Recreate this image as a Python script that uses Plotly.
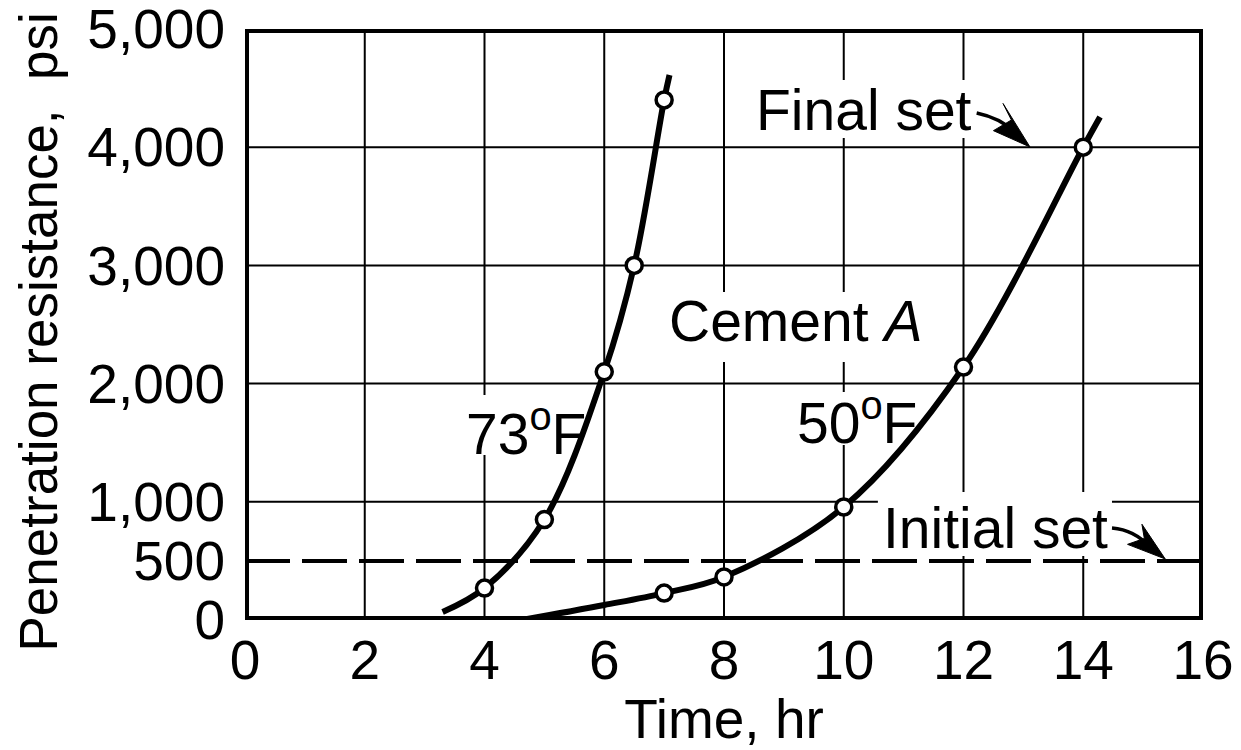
import plotly.graph_objects as go

# ---- data ----
# 73 F curve (smooth line through readings, incl. its drawn ends)
curve73_x = [3.3, 4.0, 5.0, 6.0, 6.5, 7.0, 7.09]
curve73_y = [68, 270, 850, 2100, 3000, 4400, 4611]
pts73_x = [4.0, 5.0, 6.0, 6.5, 7.0]
pts73_y = [270, 850, 2100, 3000, 4400]

# 50 F curve
curve50_x = [4.62, 6.0, 7.0, 8.0, 10.0, 12.0, 14.0, 14.28]
curve50_y = [0, 127, 228, 364, 956, 2140, 4000, 4255]
pts50_x = [7.0, 8.0, 10.0, 12.0, 14.0]
pts50_y = [228, 364, 956, 2140, 4000]

x_ticks = [0, 2, 4, 6, 8, 10, 12, 14, 16]
y_ticks = [0, 500, 1000, 2000, 3000, 4000, 5000]
y_ticktext = ["0", "500", "1,000", "2,000", "3,000", "4,000", "5,000"]
x_grid = [2, 4, 6, 8, 10, 12, 14]
y_grid = [1000, 2000, 3000, 4000]
initial_set = 500
x_range = [0, 16]
y_range = [0, 5000]

FONT = "Liberation Sans, Arial, Helvetica, sans-serif"

fig = go.Figure()

for cx, cy in [(curve73_x, curve73_y), (curve50_x, curve50_y)]:
    fig.add_trace(go.Scatter(x=cx, y=cy, mode="lines",
                             line=dict(color="black", width=6, shape="spline"),
                             hoverinfo="skip", showlegend=False))
for px_, py_ in [(pts73_x, pts73_y), (pts50_x, pts50_y)]:
    fig.add_trace(go.Scatter(x=px_, y=py_, mode="markers",
                             marker=dict(symbol="circle", size=16, color="white",
                                         line=dict(color="black", width=3.5)),
                             showlegend=False))

shapes = []
# grid lines
for gx in x_grid:
    shapes.append(dict(type="line", xref="x", yref="y", x0=gx, x1=gx,
                       y0=y_range[0], y1=y_range[1], layer="below",
                       line=dict(color="black", width=2)))
for gy in y_grid:
    shapes.append(dict(type="line", xref="x", yref="y", x0=x_range[0], x1=x_range[1],
                       y0=gy, y1=gy, layer="below",
                       line=dict(color="black", width=2)))
# white patches behind labels (grid is broken around text)
for (x0, x1, y0, y1) in [(8.43, 12.19, 4078, 4568),   # Final set
                         (7.01, 11.44, 2183, 2775),   # Cement A
                         (3.59, 5.76, 1396, 1904),    # 73F
                         (9.19, 11.27, 1480, 1929),   # 50F
                         (10.57, 14.48, 541, 1083)]:  # Initial set
    shapes.append(dict(type="rect", xref="x", yref="y", x0=x0, x1=x1, y0=y0, y1=y1,
                       layer="below", fillcolor="white", line=dict(width=0)))
# initial set dashed line
shapes.append(dict(type="line", xref="x", yref="y", x0=x_range[0], x1=x_range[1],
                   y0=initial_set, y1=initial_set, layer="below",
                   line=dict(color="black", width=4, dash="45px,12px")))
# curved pointer arrows (shaft + head)
shapes.append(dict(type="path", xref="x", yref="y",
                   path="M 12.22,4289 Q 12.61,4247 12.85,4130",
                   line=dict(color="black", width=3.5)))
shapes.append(dict(type="path", xref="x", yref="y",
                   path="M 13.11,4002 L 12.66,4370 L 12.80,4230 L 12.50,4140 Z",
                   fillcolor="black", line=dict(color="black", width=1)))
shapes.append(dict(type="path", xref="x", yref="y",
                   path="M 14.48,778 Q 14.86,761 15.10,620",
                   line=dict(color="black", width=3.5)))
shapes.append(dict(type="path", xref="x", yref="y",
                   path="M 15.37,516 L 14.98,810 L 15.02,690 L 14.74,640 Z",
                   fillcolor="black", line=dict(color="black", width=1)))
# frame
shapes.append(dict(type="rect", xref="x", yref="y", x0=x_range[0], x1=x_range[1],
                   y0=y_range[0], y1=y_range[1], layer="above",
                   line=dict(color="black", width=8)))

afont = dict(family=FONT, size=57, color="black")
annotations = [
    dict(x=10.34, y=4315, text="Final set", showarrow=False, font=afont),
    dict(x=9.20, y=2530, text="Cement <i>A</i>", showarrow=False, font=afont),
    dict(x=4.69, y=1607, text="73<sup>o</sup>F", showarrow=False, font=afont),
    dict(x=10.22, y=1700, text="50<sup>o</sup>F", showarrow=False, font=afont),
    dict(x=12.54, y=778, text="Initial set", showarrow=False, font=afont),
    # y-axis title
    dict(xref="paper", yref="paper", x=0, y=0.5, xanchor="center", yanchor="middle",
         xshift=-207, yshift=-8, textangle=-90, showarrow=False,
         text="Penetration resistance,\u00a0\u00a0psi",
         font=dict(family=FONT, size=53, color="black")),
]

tfont = dict(family=FONT, size=55, color="black")
fig.update_layout(
    width=1233, height=742,
    margin=dict(l=237, r=38, t=21, b=130, autoexpand=False),
    paper_bgcolor="white", plot_bgcolor="white",
    font=dict(family=FONT, size=55, color="black"),
    shapes=shapes, annotations=annotations, showlegend=False,
    xaxis=dict(range=x_range, tickvals=x_ticks, showgrid=False, zeroline=False,
               showline=False, ticks="", ticklabelstandoff=3,
               ticklabeloverflow="allow", tickfont=tfont,
               title=dict(text="Time, hr", font=tfont, standoff=15)),
    yaxis=dict(range=y_range, tickvals=y_ticks, ticktext=y_ticktext, showgrid=False,
               zeroline=False, showline=False, ticks="", ticklabelstandoff=19,
               ticklabeloverflow="allow", tickfont=tfont),
)

fig.write_html("out.html")
